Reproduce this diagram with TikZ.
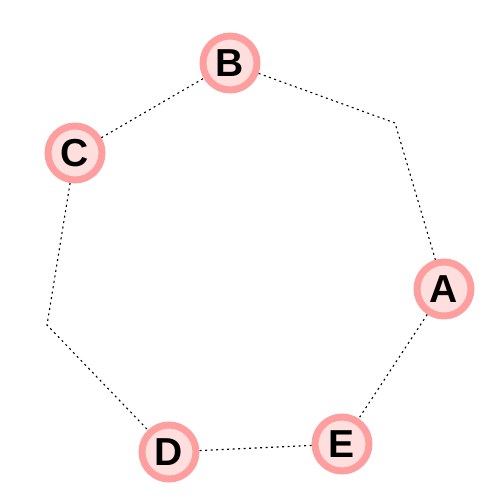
\documentclass[tikz,border=0pt]{standalone}
\usepackage{fontspec}
\setmainfont{Liberation Sans}
\definecolor{ringc}{HTML}{FF9E9E}
\definecolor{fillc}{HTML}{FFDEDE}
\begin{document}
\begin{tikzpicture}[x=1pt,y=-1pt,
  vtx/.style={circle,draw=ringc,fill=fillc,line width=7pt,minimum size=54pt,inner sep=0pt,
    font=\fontsize{39}{39}\selectfont\bfseries},
  edg/.style={line width=1.1pt,dash pattern=on 2pt off 3.5pt}]
\useasboundingbox (0,0) rectangle (499,499);
\node[vtx] (A) at (444,289) {A};
\node[vtx] (B) at (230,63) {B};
\node[vtx] (C) at (75,153) {C};
\node[vtx] (D) at (169,452) {D};
\node[vtx] (E) at (342,444) {E};
\coordinate (p1) at (395,123);
\coordinate (p2) at (47,325);
\draw[edg] (B) -- (p1) -- (A);
\draw[edg] (C) -- (p2) -- (D);
\draw[edg] (C) -- (B);
\draw[edg] (A) -- (E);
\draw[edg] (E) -- (D);
\end{tikzpicture}
\end{document}
